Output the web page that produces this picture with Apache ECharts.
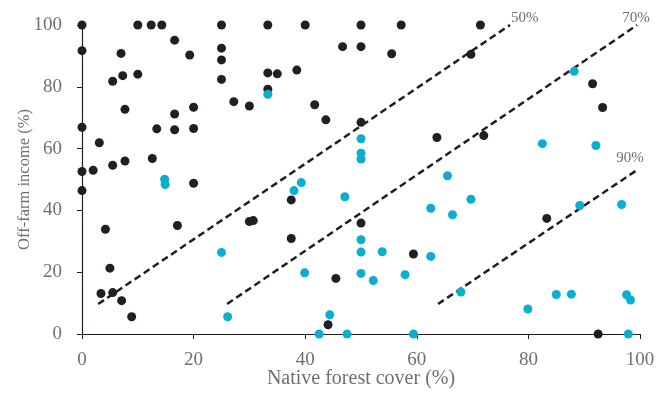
<!DOCTYPE html>
<html>
<head>
<meta charset="utf-8">
<script src="https://cdn.jsdelivr.net/npm/echarts@6/dist/echarts.min.js"></script>
<style>
  html, body { margin: 0; padding: 0; background: #fff; }
  #chart { width: 667px; height: 399px; }
</style>
</head>
<body>
<div id="chart"></div>
<script>
// 点数据：[原生林覆盖 %, 非农收入 %]
const blackPoints = [
  [0, 100], [10, 100], [12.4, 100], [14.3, 100], [25, 100], [33.3, 100], [40, 100], [50, 100], [57.2, 100], [71.4, 100],
  [16.6, 95.1], [0, 91.7], [7, 90.8], [19.3, 90.3], [25, 92.5], [25, 88.7], [46.7, 93], [50, 93], [55.5, 90.7], [69.7, 90.5],
  [5.5, 81.8], [7.3, 83.6], [10, 84.1], [25, 82.4], [33.3, 84.5], [35, 84.2], [38.5, 85.4], [33.3, 79.2], [91.5, 81],
  [27.2, 75.2], [30, 73.8], [7.7, 72.7], [16.6, 71.2], [20, 73.4], [41.7, 74.2], [43.7, 69.3], [50, 68.5], [93.3, 73.3],
  [0, 66.9], [13.4, 66.4], [16.6, 66.1], [20, 66.5], [3.1, 61.9], [63.6, 63.6], [72, 64.2],
  [0, 52.6], [2, 53], [5.5, 54.6], [7.7, 56], [12.6, 56.8], [0, 46.4], [20, 48.8], [37.5, 43.4],
  [4.2, 33.9], [17.1, 35.1], [30, 36.4], [30.7, 36.7], [50, 35.9], [83.3, 37.4], [37.5, 30.9], [59.4, 25.9],
  [5, 21.3], [3.4, 13.1], [5.5, 13.4], [7.1, 10.8], [8.9, 5.6], [45.5, 18], [44.1, 3], [92.5, 0]
];
const cyanPoints = [
  [33.3, 77.6], [88.2, 85], [50, 63.2], [50, 58.5], [50, 56.6], [82.5, 61.6], [92.1, 61], [65.5, 51.2],
  [14.8, 50.1], [14.9, 48.4], [39.3, 49], [38, 46.4], [47.1, 44.4], [69.7, 43.6], [62.5, 40.7], [66.4, 38.6],
  [89.2, 41.6], [96.7, 41.9], [50, 30.5], [50, 26.5], [53.8, 26.6], [62.5, 25.1], [25, 26.4],
  [39.9, 19.8], [50, 19.6], [52.2, 17.3], [57.9, 19.2], [67.9, 13.6], [79.9, 8.1], [85, 12.8], [87.7, 12.9],
  [97.6, 12.7], [98.3, 11], [26.1, 5.6], [44.4, 6.2], [42.5, 0], [47.5, 0], [59.4, 0], [97.9, 0]
];
// 虚线（50% / 70% / 90%）
const lineNames = ['50%', '70%', '90%'];
const line50 = [[2.9, 9.7], [76.7, 100]];
const line70 = [[26, 9.7], [99.5, 100]];
const line90 = [[63.8, 9.7], [99.5, 53.1]];
const xTicks = [0, 20, 40, 60, 80, 100];
const yTicks = [0, 20, 40, 60, 80, 100];

const fontFamily = "'Liberation Serif', 'Times New Roman', serif";
const grayText = '#6f6f6f';
const labelOffsets = [[1, -7], [-15, -7], [-21, -12]];

let myChart = echarts.init(document.getElementById('chart'));

function dashLine(name, data, i) {
  return {
    name: name,
    type: 'line',
    data: data,
    showSymbol: false,
    silent: true,
    z: 1,
    lineStyle: { color: '#231f20', width: 2.5, type: [7, 4] },
    endLabel: {
      show: true,
      formatter: name,
      distance: 0,
      offset: labelOffsets[i],
      color: grayText,
      fontFamily: fontFamily,
      fontSize: 15
    }
  };
}

let option = {
  animation: false,
  grid: { left: 82, right: 27, top: 25, bottom: 65 },
  xAxis: {
    type: 'value',
    min: xTicks[0],
    max: xTicks[xTicks.length - 1],
    interval: xTicks[1] - xTicks[0],
    name: 'Native forest cover (%)',
    nameLocation: 'middle',
    nameGap: 35,
    nameMoveOverlap: false,
    nameTextStyle: { color: grayText, fontFamily: fontFamily, fontSize: 20 },
    axisLine: { lineStyle: { color: '#231f20', width: 1.2 } },
    axisTick: { show: true, length: 5, lineStyle: { color: '#231f20' } },
    axisLabel: { color: grayText, fontFamily: fontFamily, fontSize: 19, margin: 17 },
    splitLine: { show: false }
  },
  yAxis: {
    type: 'value',
    min: yTicks[0],
    max: yTicks[yTicks.length - 1],
    interval: yTicks[1] - yTicks[0],
    name: 'Off-farm income (%)',
    nameLocation: 'middle',
    nameGap: 49,
    nameMoveOverlap: false,
    nameTextStyle: { color: grayText, fontFamily: fontFamily, fontSize: 16.5 },
    axisLine: { show: true, lineStyle: { color: '#231f20', width: 1.2 } },
    axisTick: { show: true, length: 5, lineStyle: { color: '#231f20' } },
    axisLabel: { color: grayText, fontFamily: fontFamily, fontSize: 19, margin: 20 },
    splitLine: { show: false }
  },
  series: [
    dashLine(lineNames[0], line50, 0),
    dashLine(lineNames[1], line70, 1),
    dashLine(lineNames[2], line90, 2),
    {
      name: 'black',
      type: 'scatter',
      data: blackPoints,
      symbolSize: 9,
      clip: false,
      z: 3,
      itemStyle: { color: '#231f20', opacity: 1 }
    },
    {
      name: 'cyan',
      type: 'scatter',
      data: cyanPoints,
      symbolSize: 9,
      clip: false,
      z: 4,
      itemStyle: { color: '#0aaecf', opacity: 1 }
    }
  ]
};

myChart.setOption(option);
</script>
</body>
</html>
